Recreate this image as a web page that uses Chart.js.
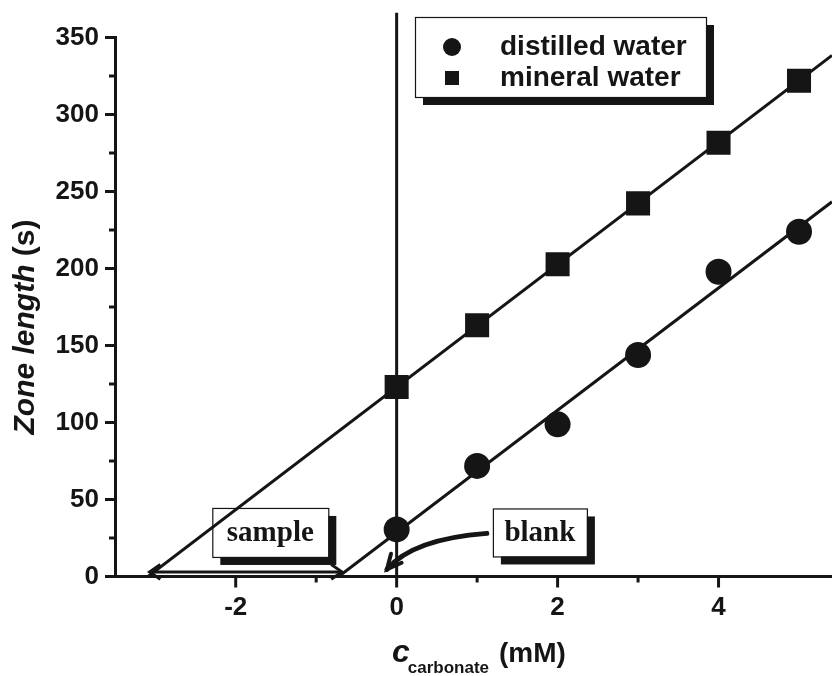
<!DOCTYPE html>
<html><head><meta charset="utf-8">
<script src="https://cdn.jsdelivr.net/npm/chart.js@4/dist/chart.umd.min.js"></script>
<style>html,body{margin:0;padding:0;background:#fff;}canvas{display:block;}</style>
</head><body>
<canvas id="c" width="832" height="676"></canvas>
<script>
// ---------- data ----------
const concentrations = [0, 1, 2, 3, 4, 5];
const distilledWater = [30.6, 71.8, 98.8, 143.8, 197.9, 223.9];
const mineralWater = [123.1, 163.2, 202.7, 242.3, 281.7, 321.9];
const seriesLabels = ['distilled water', 'mineral water'];
// fitted straight lines: end points
const distilledFitX = [-0.72, 5.41];
const distilledFitY = [0, 243.3];
const mineralFitX = [-3.09, 5.41];
const mineralFitY = [0, 338.4];
const xTickLabels = ['-2', '0', '2', '4'];
const yTickLabels = ['0', '50', '100', '150', '200', '250', '300', '350'];
const boxLabels = ['sample', 'blank'];

// ---------- layout / style ----------
const INK = '#151515';
const SANS = '"Liberation Sans", Arial, Helvetica, sans-serif';
const SERIF = '"Liberation Serif", "Times New Roman", serif';
const X_MIN = -3.5, X_MAX = 5.41, Y_MIN = 0, Y_MAX = 350;
const annot = {
  boxes: [
    {x: -1.57, y: 28.6, w: 116, h: 49},
    {x: 1.78, y: 28.6, w: 94, h: 48}
  ],
  interceptArrow: {x1: -3.07, x2: -0.68, y: 3},
  blankArrow: {sx: 1.12, sy: 28, cx: 0.2, cy: 24.4, ex: -0.12, ey: 4.7},
  zeroLineTop: 366,
  legend: {left: 415, top: 17, w: 291, h: 80, shadow: 8}
};

const toPts = (xs, ys) => xs.map((x, i) => ({x, y: ys[i]}));

function arrowHead(ctx, tx, ty, ang, len, spread) {
  ctx.beginPath();
  ctx.moveTo(tx + len * Math.cos(ang + spread), ty + len * Math.sin(ang + spread));
  ctx.lineTo(tx, ty);
  ctx.lineTo(tx + len * Math.cos(ang - spread), ty + len * Math.sin(ang - spread));
  ctx.stroke();
}

function drawRuns(ctx, runs, x, y) {
  let cx = x;
  runs.forEach(r => {
    ctx.font = r.font;
    ctx.fillText(r.text, cx + (r.dx || 0), y + (r.dy || 0));
    cx += ctx.measureText(r.text).width + (r.dx || 0);
  });
}
function runsWidth(ctx, runs) {
  let w = 0;
  runs.forEach(r => { ctx.font = r.font; w += ctx.measureText(r.text).width + (r.dx || 0); });
  return w;
}

const overlay = {
  id: 'overlay',
  beforeDatasetsDraw(chart) {
    const {ctx, scales: {x, y}} = chart;
    ctx.save();
    // vertical line at c = 0
    ctx.strokeStyle = INK; ctx.lineWidth = 3;
    ctx.beginPath();
    ctx.moveTo(x.getPixelForValue(0), y.getPixelForValue(0));
    ctx.lineTo(x.getPixelForValue(0), y.getPixelForValue(annot.zeroLineTop));
    ctx.stroke();
    // label boxes
    annot.boxes.forEach((b, i) => {
      const cx = x.getPixelForValue(b.x), cy = y.getPixelForValue(b.y);
      const l = cx - b.w / 2, t = cy - b.h / 2;
      ctx.fillStyle = INK;
      ctx.fillRect(l + 8, t + 8, b.w, b.h);
      ctx.fillStyle = '#fff';
      ctx.fillRect(l, t, b.w, b.h);
      ctx.lineWidth = 1.2; ctx.strokeStyle = INK;
      ctx.strokeRect(l + 0.5, t + 0.5, b.w, b.h);
      ctx.fillStyle = INK;
      ctx.font = 'bold 29px ' + SERIF;
      ctx.textAlign = 'center'; ctx.textBaseline = 'middle';
      ctx.fillText(boxLabels[i], cx, cy + 1);
    });
    ctx.restore();
  },
  afterDraw(chart) {
    const {ctx, chartArea, scales: {x, y}} = chart;
    ctx.save();
    ctx.strokeStyle = INK; ctx.fillStyle = INK; ctx.lineCap = 'butt';
    // tick marks (major / minor)
    ctx.lineWidth = 3;
    x.ticks.forEach(t => {
      const px = x.getPixelForValue(t.value);
      const len = (t.value % 2 === 0) ? 11 : 6;
      ctx.beginPath(); ctx.moveTo(px, chartArea.bottom); ctx.lineTo(px, chartArea.bottom + len); ctx.stroke();
    });
    y.ticks.forEach(t => {
      const py = y.getPixelForValue(t.value);
      const len = (t.value % 50 === 0) ? 10 : 6;
      ctx.beginPath(); ctx.moveTo(chartArea.left, py); ctx.lineTo(chartArea.left - len, py); ctx.stroke();
    });
    // double arrow between the two x-intercepts
    const ia = annot.interceptArrow;
    const ax1 = x.getPixelForValue(ia.x1), ax2 = x.getPixelForValue(ia.x2), ay = y.getPixelForValue(ia.y);
    ctx.lineWidth = 3;
    ctx.beginPath(); ctx.moveTo(ax1, ay); ctx.lineTo(ax2, ay); ctx.stroke();
    arrowHead(ctx, ax1, ay, 0, 13, 0.6);
    arrowHead(ctx, ax2, ay, Math.PI, 13, 0.6);
    // curved "blank" arrow
    const ba = annot.blankArrow;
    const sx = x.getPixelForValue(ba.sx), sy = y.getPixelForValue(ba.sy);
    const qx = x.getPixelForValue(ba.cx), qy = y.getPixelForValue(ba.cy);
    const ex = x.getPixelForValue(ba.ex), ey = y.getPixelForValue(ba.ey);
    ctx.lineWidth = 5; ctx.lineCap = 'round';
    ctx.beginPath(); ctx.moveTo(sx, sy); ctx.quadraticCurveTo(qx, qy, ex, ey); ctx.stroke();
    const ang = Math.atan2(qy - ey, qx - ex);
    ctx.lineWidth = 4;
    arrowHead(ctx, ex, ey, ang, 16, 0.45);
    ctx.lineCap = 'butt';
    // legend
    const lg = annot.legend;
    ctx.fillStyle = INK;
    ctx.fillRect(lg.left + lg.shadow, lg.top + lg.shadow, lg.w, lg.h);
    ctx.fillStyle = '#fff';
    ctx.fillRect(lg.left, lg.top, lg.w, lg.h);
    ctx.lineWidth = 1.2; ctx.strokeStyle = INK;
    ctx.strokeRect(lg.left + 0.5, lg.top + 0.5, lg.w, lg.h);
    ctx.fillStyle = INK;
    ctx.beginPath(); ctx.arc(lg.left + 37, lg.top + 30, 9, 0, Math.PI * 2); ctx.fill();
    ctx.fillRect(lg.left + 30, lg.top + 54, 14, 14);
    ctx.font = 'bold 28px ' + SANS;
    ctx.textAlign = 'left'; ctx.textBaseline = 'alphabetic';
    ctx.fillText(chart.data.datasets[0].label, lg.left + 85, lg.top + 38);
    ctx.fillText(chart.data.datasets[1].label, lg.left + 85, lg.top + 69);
    // y axis title
    ctx.save();
    ctx.translate(26, 327);
    ctx.rotate(-Math.PI / 2);
    const yRuns = [{text: 'Zone length ', font: 'italic bold 30px ' + SANS}, {text: '(s)', font: 'bold 30px ' + SANS}];
    ctx.textBaseline = 'middle';
    drawRuns(ctx, yRuns, -runsWidth(ctx, yRuns) / 2, 0);
    ctx.restore();
    // x axis title
    const xRuns = [
      {text: 'c', font: 'italic bold 32px ' + SANS},
      {text: 'carbonate', font: 'bold 17px ' + SANS, dy: 11, dx: -2},
      {text: '(mM)', font: 'bold 28px ' + SANS, dx: 10}
    ];
    ctx.textBaseline = 'alphabetic';
    drawRuns(ctx, xRuns, 392, 662);
    ctx.restore();
  }
};

new Chart(document.getElementById('c'), {
  type: 'scatter',
  data: {
    datasets: [
      {label: seriesLabels[0], data: toPts(concentrations, distilledWater), pointStyle: 'circle', pointRadius: 13,
       backgroundColor: INK, borderColor: INK, pointBorderWidth: 0, showLine: false, order: 0},
      {label: seriesLabels[1], data: toPts(concentrations, mineralWater), pointStyle: 'rect', pointRadius: 17,
       backgroundColor: INK, borderColor: INK, pointBorderWidth: 0, showLine: false, order: 0},
      {label: 'fit ' + seriesLabels[0], data: toPts(distilledFitX, distilledFitY), showLine: true, borderColor: INK,
       borderWidth: 3, pointRadius: 0, order: 1},
      {label: 'fit ' + seriesLabels[1], data: toPts(mineralFitX, mineralFitY), showLine: true, borderColor: INK,
       borderWidth: 3, pointRadius: 0, order: 1}
    ]
  },
  options: {
    responsive: false, animation: false, devicePixelRatio: 1,
    layout: {autoPadding: false, padding: {top: 37.5, left: 0, right: 0, bottom: 0}},
    plugins: {legend: {display: false}, tooltip: {enabled: false}},
    scales: {
      x: {
        type: 'linear', min: X_MIN, max: X_MAX,
        afterBuildTicks: s => { s.ticks = s.ticks.filter(t => Number.isInteger(t.value)); },
        afterFit: s => { s.height = 99.5; s.paddingLeft = 0; s.paddingRight = 0; },
        ticks: {stepSize: 1, padding: 16, color: INK, font: {family: SANS, size: 26, weight: 'bold'},
          callback: v => { const i = [-2, 0, 2, 4].indexOf(v); return i >= 0 ? xTickLabels[i] : ''; }},
        grid: {display: true, drawOnChartArea: false, drawTicks: false},
        border: {display: true, color: INK, width: 3}
      },
      y: {
        type: 'linear', min: Y_MIN, max: Y_MAX,
        afterFit: s => { s.width = 115; s.paddingTop = 0; s.paddingBottom = 0; },
        ticks: {stepSize: 25, padding: 16, color: INK, font: {family: SANS, size: 26, weight: 'bold'},
          callback: v => (v % 50 === 0 ? yTickLabels[v / 50] : '')},
        grid: {display: true, drawOnChartArea: false, drawTicks: false},
        border: {display: true, color: INK, width: 3}
      }
    }
  },
  plugins: [overlay]
});
</script>
</body></html>
